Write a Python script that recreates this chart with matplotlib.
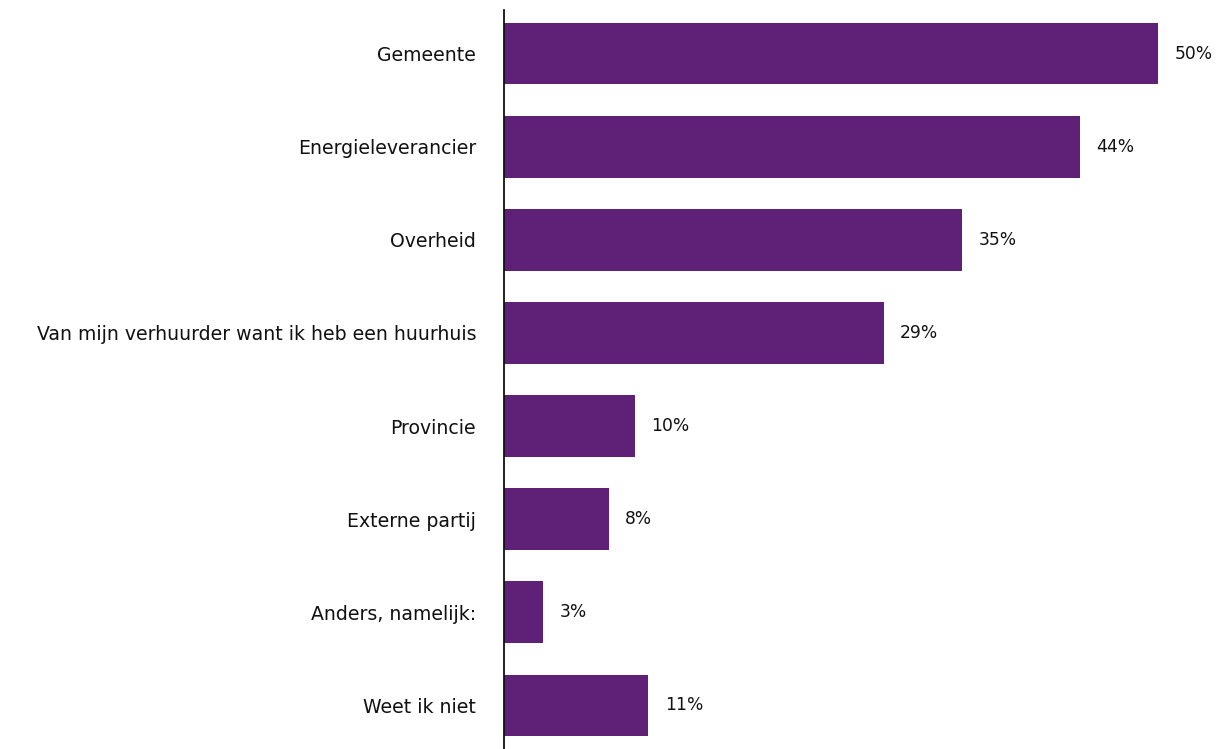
import matplotlib
matplotlib.use("Agg")
import matplotlib.pyplot as plt

categories = [
    "Gemeente",
    "Energieleverancier",
    "Overheid",
    "Van mijn verhuurder want ik heb een huurhuis",
    "Provincie",
    "Externe partij",
    "Anders, namelijk:",
    "Weet ik niet",
]
values = [50, 44, 35, 29, 10, 8, 3, 11]
value_labels = ["50%", "44%", "35%", "29%", "10%", "8%", "3%", "11%"]

bar_color = "#5E2177"

plt.rcParams["font.family"] = ["DejaVu Sans"]

fig = plt.figure(figsize=(12.16, 7.49), dpi=100)
ax = fig.add_axes([504 / 1216, 0.0, 1 - 504 / 1216, (749 - 10) / 749])

pos = list(range(len(categories)))
ax.barh(pos, values, height=0.66, color=bar_color)

for p, v, lab in zip(pos, values, value_labels):
    ax.annotate(lab, (v, p), xytext=(12, 0), textcoords="offset points",
                ha="left", va="center", fontsize=12.3, color="#111111")

ax.set_xlim(0, 54.4)
ax.set_ylim(7.47, -0.47)
ax.set_yticks(pos)
ax.set_yticklabels(categories, fontsize=13.6, color="#111111")
ax.tick_params(axis="y", length=0, pad=20)
ax.set_xticks([])
for s in ["top", "right", "bottom"]:
    ax.spines[s].set_visible(False)
ax.spines["left"].set_linewidth(1.3)
ax.spines["left"].set_color("#111111")

fig.savefig("out.png", dpi=100)
